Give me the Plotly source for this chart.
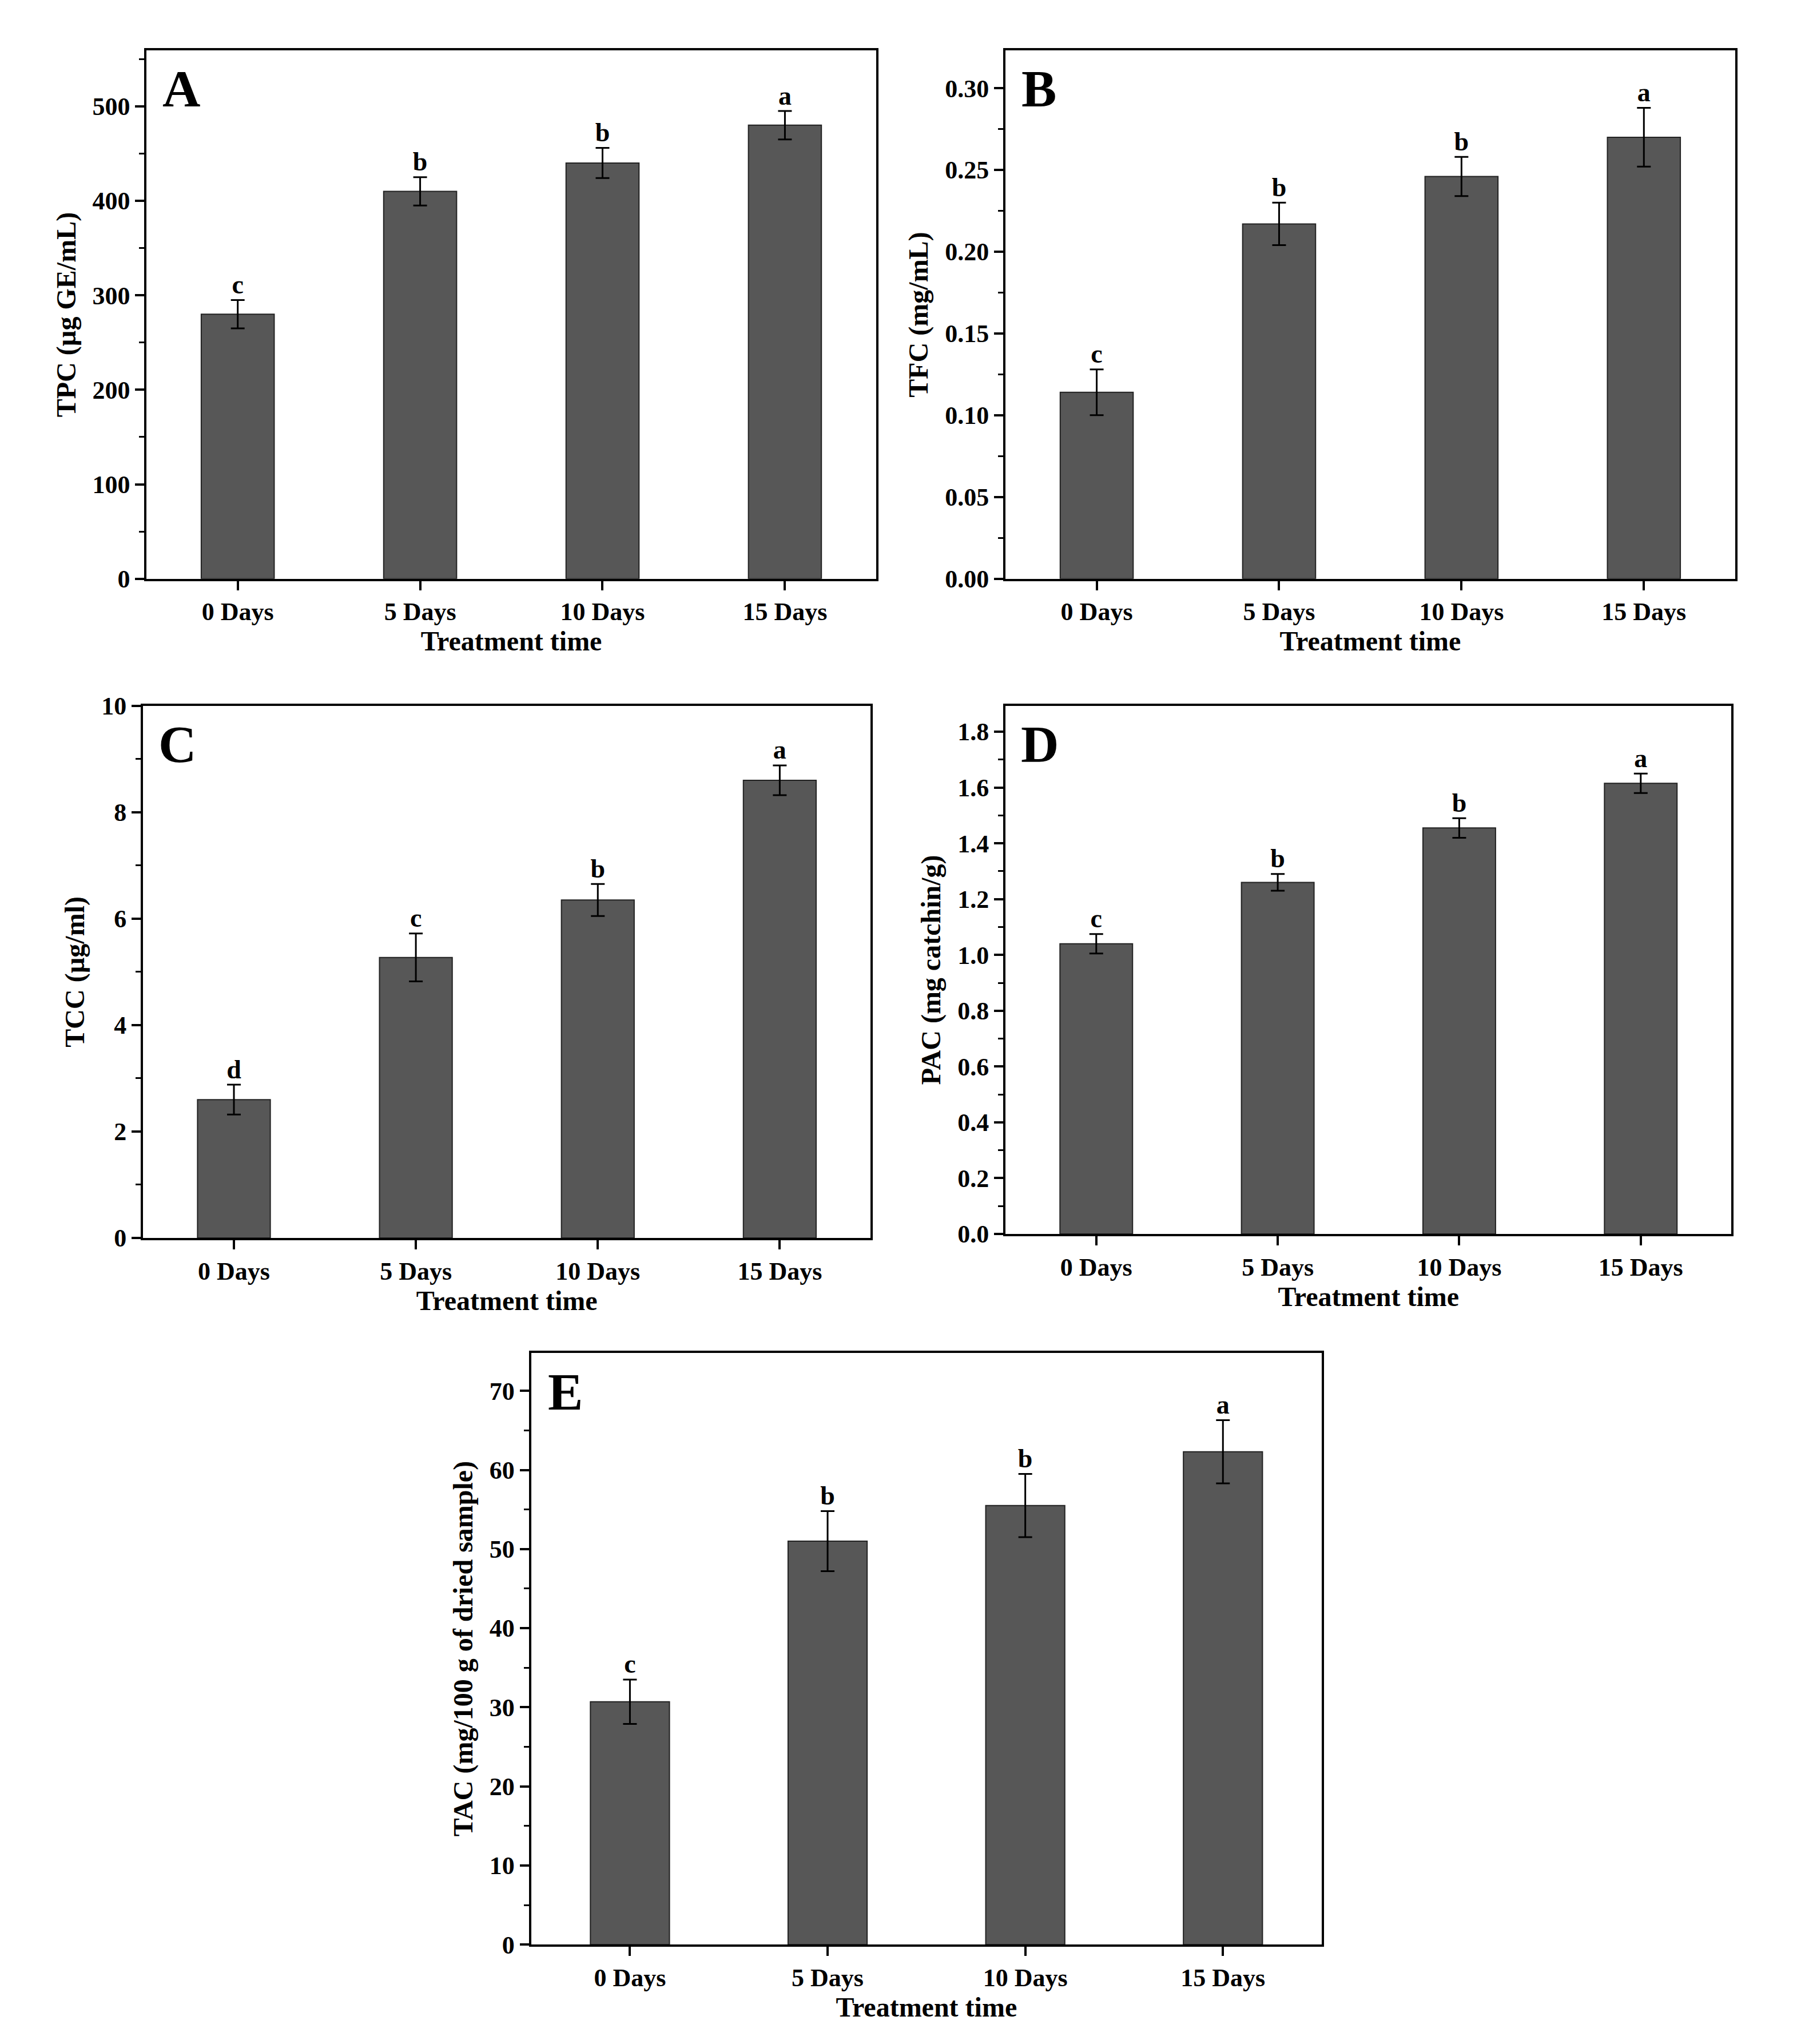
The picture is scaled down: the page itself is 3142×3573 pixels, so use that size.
import plotly.graph_objects as go

days = ["0 Days", "5 Days", "10 Days", "15 Days"]

tpc = [280, 410, 440, 480]
tpc_err = [15, 15, 16, 15]
tpc_sig = ["c", "b", "b", "a"]

tfc = [0.114, 0.217, 0.246, 0.270]
tfc_err = [0.014, 0.013, 0.012, 0.018]
tfc_sig = ["c", "b", "b", "a"]

tcc = [2.6, 5.27, 6.35, 8.6]
tcc_err = [0.28, 0.45, 0.3, 0.28]
tcc_sig = ["d", "c", "b", "a"]

pac = [1.04, 1.26, 1.455, 1.615]
pac_err = [0.035, 0.03, 0.035, 0.035]
pac_sig = ["c", "b", "b", "a"]

tac = [30.7, 51.0, 55.5, 62.3]
tac_err = [2.8, 3.8, 4.0, 4.0]
tac_sig = ["c", "b", "b", "a"]

FONT = "Liberation Serif"

panels = [
    # name, values, errs, letters, ytitle, yrange, dtick, fmt, xdomain, ydomain
    ("A", tpc, tpc_err, tpc_sig, "TPC (µg GE/mL)", [0, 559], 100, "d", [0.079, 0.485], [0.722, 0.984]),
    ("B", tfc, tfc_err, tfc_sig, "TFC (mg/mL)", [0, 0.323], 0.05, ".2f", [0.557, 0.963], [0.722, 0.984]),
    ("C", tcc, tcc_err, tcc_sig, "TCC (µg/ml)", [0, 10], 2, "d", [0.077, 0.482], [0.395, 0.659]),
    ("D", pac, pac_err, pac_sig, "PAC (mg catchin/g)", [0, 1.893], 0.2, ".1f", [0.557, 0.961], [0.397, 0.659]),
    ("E", tac, tac_err, tac_sig, "TAC (mg/100 g of dried sample)", [0, 74.8], 10, "d", [0.293, 0.733], [0.0445, 0.338]),
]

fig = go.Figure()
layout = {}

for i, (name, vals, errs, sig, ytitle, yr, dt, fmt, xd, yd) in enumerate(panels, start=1):
    xa = "x" if i == 1 else f"x{i}"
    ya = "y" if i == 1 else f"y{i}"
    fig.add_trace(go.Bar(
        x=days, y=vals, xaxis=xa, yaxis=ya, width=0.4,
        marker=dict(color="#575757", line=dict(color="#222222", width=2)),
        error_y=dict(type="data", array=errs, color="black", thickness=3, width=12),
        showlegend=False,
    ))
    fig.add_trace(go.Scatter(
        x=days, y=[v + e for v, e in zip(vals, errs)], xaxis=xa, yaxis=ya,
        mode="text", text=[f"<b>{s}</b>" for s in sig], textposition="top center",
        textfont=dict(family=FONT, size=46, color="black"),
        showlegend=False, cliponaxis=False,
    ))
    axis_common = dict(
        showline=True, linecolor="black", linewidth=4, mirror=True,
        ticks="outside", ticklen=16, tickwidth=4, tickcolor="black",
        tickfont=dict(family=FONT, size=44, color="black"),
        showgrid=False, zeroline=False,
    )
    layout[f"xaxis{i}"] = dict(
        axis_common, domain=xd, anchor=ya, range=[-0.5, 3.5],
        title=dict(text="<b>Treatment time</b>", font=dict(family=FONT, size=48, color="black"), standoff=10),
        tickprefix="<b>", ticksuffix="</b>",
    )
    layout[f"yaxis{i}"] = dict(
        axis_common, domain=yd, anchor=xa, range=yr, dtick=dt, tick0=0, tickformat=fmt,
        minor=dict(ticks="outside", ticklen=9, tickwidth=3, tickcolor="black", dtick=dt / 2),
        title=dict(text=f"<b>{ytitle}</b>", font=dict(family=FONT, size=48, color="black"), standoff=15),
        tickprefix="<b>", ticksuffix="</b>",
    )
    fig.add_annotation(
        text=f"<b>{name}</b>", xref=f"{xa} domain", yref=f"{ya} domain",
        x=0.02, y=0.985, xanchor="left", yanchor="top", showarrow=False,
        font=dict(family=FONT, size=92, color="black"),
    )

fig.update_layout(
    width=3142, height=3573,
    paper_bgcolor="white", plot_bgcolor="white",
    margin=dict(l=0, r=0, t=0, b=0),
    **layout,
)

fig.write_html("out.html")
